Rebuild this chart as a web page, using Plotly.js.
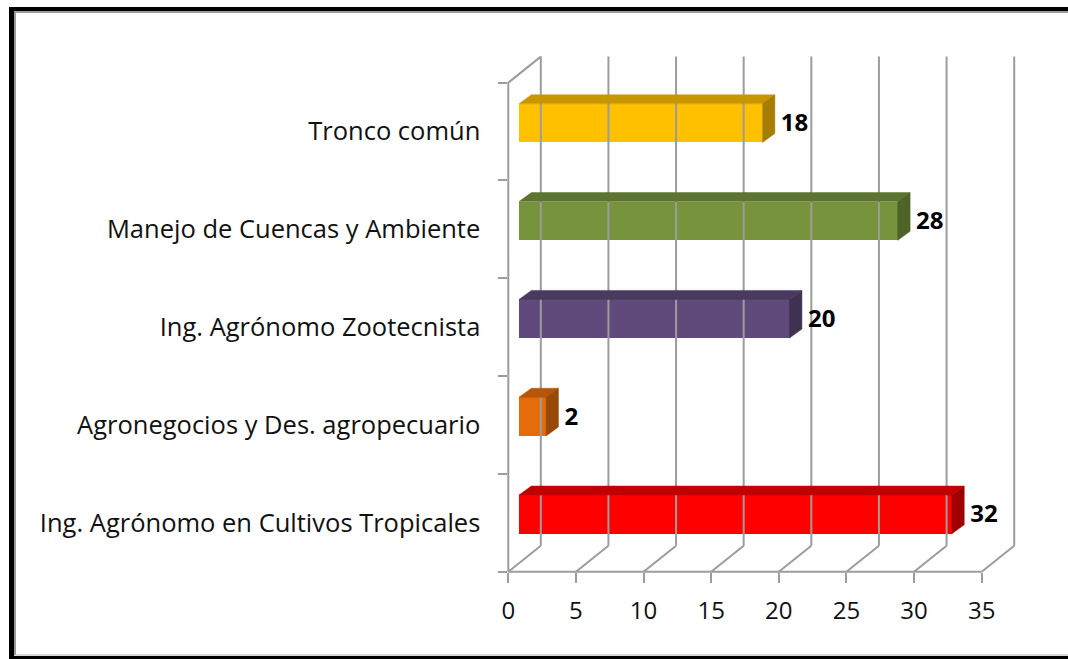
<!DOCTYPE html>
<html>
<head>
<meta charset="utf-8">
<script src="https://cdn.plot.ly/plotly-3.0.1.min.js"></script>
<style>html,body{margin:0;padding:0;background:#fff;}#chart{width:1068px;height:659px;}</style>
</head>
<body>
<div id="chart"></div>
<script>
// ---- data ----
const categories = ["Ing. Agrónomo en Cultivos Tropicales", "Agronegocios y Des. agropecuario", "Ing. Agrónomo Zootecnista", "Manejo de Cuencas y Ambiente", "Tronco común"];
const values = [32, 2, 20, 28, 18];
const xTickValues = [0, 5, 10, 15, 20, 25, 30, 35];
const frontColors = ["#FF0000", "#E46C0A", "#604A7B", "#77933C", "#FFC000"];
const topColors   = ["#C00000", "#B55608", "#4B3A60", "#5D7430", "#C89600"];
const sideColors  = ["#A00000", "#984807", "#3F3151", "#4F6228", "#A67D00"];

// ---- geometry (pixels -> axis units) ----
const W = 1068, H = 659;
const pxL = 508.3, pxR = 1015, pxT = 56.7, pxB = 571.7;
const xs = 13.526;                 // px per x unit
const yTop = 4.765, yBot = -0.5;
const ys = (pxB - pxT) / (yTop - yBot); // px per category
const pad = 10;
const DX = 32.5 / xs, DY = 26 / ys;      // wall depth
const FX = 0.79, FY = 8.4 / ys;           // bar front-face offset
const BW = 38.7 / ys;                     // bar face height
const BDX = 12.4 / xs, BDY = 9 / ys;      // bar depth
const xMax = (pxR - pxL) / xs;
const gridColor = "#9c9c9c";
const lastTick = xTickValues[xTickValues.length - 1];
const FONT = "'Open Sans', sans-serif";

const traces = [];
// invisible trace to carry the category axis
traces.push({type: "bar", orientation: "h", y: categories, x: values, xaxis: "x", yaxis: "y",
  marker: {color: "rgba(0,0,0,0)"}, hoverinfo: "skip", showlegend: false});

function line(xsArr, ysArr) {
  traces.push({type: "scatter", mode: "lines", x: xsArr, y: ysArr, xaxis: "x2", yaxis: "y2",
    line: {color: gridColor, width: 2}, hoverinfo: "skip", showlegend: false});
}
// back wall gridlines and floor diagonals
xTickValues.forEach(v => {
  line([v + DX, v + DX], [yBot + DY, yBot + 5 + DY]);
  line([v, v + DX], [yBot, yBot + DY]);
});
// front floor edge
line([0, lastTick], [yBot, yBot]);
// left wall front edge and top
line([0, 0, DX], [yBot, yBot + 5, yBot + 5 + DY]);

// bars: front face
traces.push({type: "bar", orientation: "h", xaxis: "x2", yaxis: "y2",
  y: values.map((v, i) => i + FY), x: values, base: FX, width: BW,
  marker: {color: frontColors, line: {width: 0}}, hoverinfo: "skip", showlegend: false});
// top & side faces
values.forEach((v, i) => {
  const yc = i + FY, yt = yc + BW / 2, yb = yc - BW / 2;
  traces.push({type: "scatter", mode: "lines", fill: "toself", xaxis: "x2", yaxis: "y2",
    x: [FX, FX + BDX, FX + v + BDX, FX + v, FX], y: [yt, yt + BDY, yt + BDY, yt, yt],
    fillcolor: topColors[i], line: {width: 0.5, color: topColors[i]}, hoverinfo: "skip", showlegend: false});
  traces.push({type: "scatter", mode: "lines", fill: "toself", xaxis: "x2", yaxis: "y2",
    x: [FX + v, FX + v, FX + v + BDX, FX + v + BDX, FX + v], y: [yb, yt, yt + BDY, yb + BDY, yb],
    fillcolor: sideColors[i], line: {width: 0.5, color: sideColors[i]}, hoverinfo: "skip", showlegend: false});
});
// value labels
traces.push({type: "scatter", mode: "markers+text", xaxis: "x2", yaxis: "y2",
  x: values.map(v => FX + v + BDX), y: values.map((v, i) => i + FY - 0.02),
  marker: {size: 8, color: "rgba(0,0,0,0)"},
  text: values.map(String), textposition: "middle right",
  textfont: {family: FONT, size: 24, color: "#000", weight: "bold"},
  cliponaxis: false, hoverinfo: "skip", showlegend: false});

const layout = {
  width: W, height: H, margin: {l: 0, r: 0, t: 0, b: 0},
  paper_bgcolor: "#fff", plot_bgcolor: "rgba(0,0,0,0)", showlegend: false,
  font: {family: FONT, color: "#000"},
  xaxis: {domain: [pxL / W, pxR / W], range: [0, xMax], anchor: "y",
    tickvals: xTickValues, ticktext: xTickValues.map(String), ticks: "outside", ticklen: 10,
    tickwidth: 2, tickcolor: gridColor, ticklabelstandoff: 7, showgrid: false, zeroline: false, showline: false,
    tickfont: {family: FONT, size: 24, color: "#111"}, fixedrange: true},
  yaxis: {domain: [1 - pxB / H, 1 - pxT / H], range: [yBot, yTop], type: "category", anchor: "x",
    categoryorder: "array", categoryarray: categories, tickson: "boundaries",
    ticks: "outside", ticklen: 9, tickwidth: 2, tickcolor: gridColor, ticklabelstandoff: 27,
    showgrid: false, zeroline: false, showline: false,
    tickfont: {family: FONT, size: 25.5, color: "#111"}, fixedrange: true},
  xaxis2: {domain: [(pxL - pad) / W, (pxR + pad) / W], range: [-pad / xs, xMax + pad / xs],
    anchor: "y2", visible: false, fixedrange: true},
  yaxis2: {domain: [1 - (pxB + pad) / H, 1 - (pxT - pad) / H], range: [yBot - pad / ys, yTop + pad / ys],
    anchor: "x2", visible: false, fixedrange: true},
  bargap: 0,
  shapes: [
    {type: "line", xref: "paper", yref: "paper", x0: 11.5 / W, x1: 11.5 / W, y0: 0, y1: 1 - 7 / H, line: {color: "#000", width: 5}},
    {type: "line", xref: "paper", yref: "paper", x0: 15 / W, x1: 15 / W, y0: 1 - 655 / H, y1: 1 - 11 / H, line: {color: "#9a9a9a", width: 2}},
    {type: "line", xref: "paper", yref: "paper", x0: 9 / W, x1: 1, y0: 1 - 9 / H, y1: 1 - 9 / H, line: {color: "#000", width: 4}},
    {type: "line", xref: "paper", yref: "paper", x0: 14 / W, x1: 1, y0: 1 - 12 / H, y1: 1 - 12 / H, line: {color: "#9a9a9a", width: 2}},
    {type: "line", xref: "paper", yref: "paper", x0: 9 / W, x1: 1, y0: 1 - 657.5 / H, y1: 1 - 657.5 / H, line: {color: "#000", width: 3}},
    {type: "line", xref: "paper", yref: "paper", x0: 14 / W, x1: 1, y0: 1 - 655 / H, y1: 1 - 655 / H, line: {color: "#b0b0b0", width: 1}}
  ]
};
Plotly.newPlot("chart", traces, layout, {staticPlot: true, displayModeBar: false});
</script>
</body>
</html>
